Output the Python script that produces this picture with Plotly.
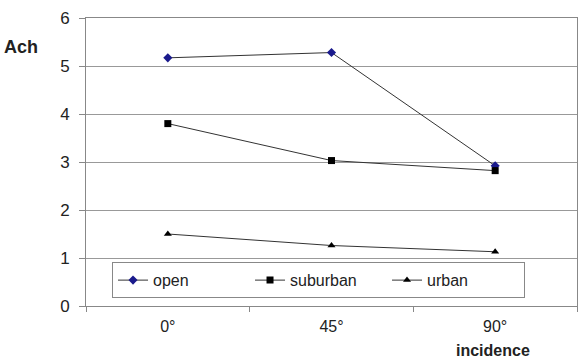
import plotly.graph_objects as go

categories = ["0°", "45°", "90°"]
open_vals = [5.17, 5.28, 2.92]
suburban_vals = [3.80, 3.03, 2.82]
urban_vals = [1.50, 1.26, 1.13]
y_ticks = [0, 1, 2, 3, 4, 5, 6]

fig = go.Figure()
fig.add_trace(go.Scatter(x=categories, y=open_vals, name="open", mode="lines+markers",
                         line=dict(color="#333333", width=1),
                         marker=dict(symbol="diamond", size=7, color="#1a1a8c")))
fig.add_trace(go.Scatter(x=categories, y=suburban_vals, name="suburban", mode="lines+markers",
                         line=dict(color="#333333", width=1),
                         marker=dict(symbol="square", size=7, color="#000000")))
fig.add_trace(go.Scatter(x=categories, y=urban_vals, name="urban", mode="lines+markers",
                         line=dict(color="#333333", width=1),
                         marker=dict(symbol="triangle-up", size=7, color="#000000")))

fam = "Liberation Sans, Arial, sans-serif"
fig.update_layout(
    width=587, height=363,
    margin=dict(l=86, r=9, t=14, b=57),
    paper_bgcolor="white", plot_bgcolor="white",
    font=dict(family=fam, size=14, color="#222222"),
    showlegend=True,
    legend=dict(orientation="h", x=0.053, y=0.027, xanchor="left", yanchor="bottom",
                bordercolor="#888888", borderwidth=1, bgcolor="white",
                font=dict(family=fam, size=16, color="#222222"),
                itemwidth=30, entrywidth=92, traceorder="normal", tracegroupgap=0),
    xaxis=dict(type="category", tickson="boundaries", ticks="outside", ticklen=5,
               tickcolor="#888888", showgrid=False, showline=True, linecolor="#888888",
               mirror=True, tickfont=dict(size=16, family=fam, color="#222222"),
               range=[-0.5, 2.5], ticklabelstandoff=6),
    yaxis=dict(range=[0, 6], tickvals=y_ticks, ticks="outside", ticklen=6,
               tickcolor="#888888", showgrid=True, gridcolor="#999999", gridwidth=1,
               showline=True, linecolor="#888888", mirror=True,
               tickfont=dict(size=17, family=fam, color="#222222"),
               ticklabelstandoff=6, zeroline=False),
)
fig.add_annotation(text="<b>Ach</b>", xref="paper", yref="paper", x=-0.172, y=0.9,
                   xanchor="left", yanchor="middle", showarrow=False,
                   font=dict(size=18, color="#222222", family=fam))
fig.add_annotation(text="<b>incidence</b>", xref="paper", yref="paper", x=0.75, y=-0.118,
                   xanchor="left", yanchor="top", showarrow=False,
                   font=dict(size=16, color="#222222", family=fam))

fig.write_html("out.html")
